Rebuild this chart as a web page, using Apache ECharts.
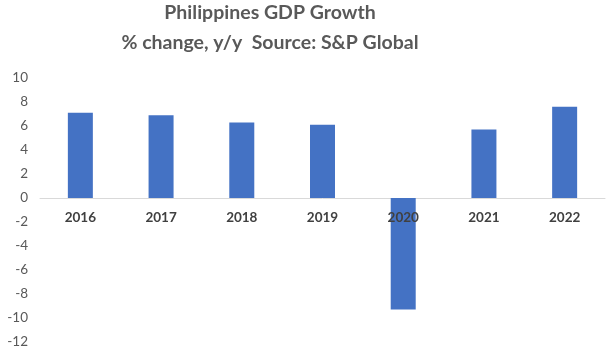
<!DOCTYPE html>
<html>
<head>
<meta charset="utf-8">
<script src="https://cdn.jsdelivr.net/npm/echarts@6/dist/echarts.min.js"></script>
<style>
  html, body { margin: 0; padding: 0; background: #fff; }
  #chart { width: 609px; height: 354px; }
</style>
</head>
<body>
<div id="chart"></div>
<script>
const years = ['2016', '2017', '2018', '2019', '2020', '2021', '2022'];
const gdpGrowth = [7.1, 6.9, 6.3, 6.1, -9.3, 5.7, 7.6];
const titleLines = ['Philippines GDP Growth', '% change, y/y  Source: S&P Global'];

const yMin = -12;
const yMax = 10;
const gridTop = 78;
const gridBottom = 12;
const plotHeight = 354 - gridTop - gridBottom;
// distance from the bottom of the grid up to the zero line
const zeroOffset = plotHeight * (0 - yMin) / (yMax - yMin);

const chart = echarts.init(document.getElementById('chart'));

chart.setOption({
  animation: false,
  title: {
    text: titleLines.join('\n'),
    left: 265,
    top: -7,
    textAlign: 'center',
    textStyle: {
      fontFamily: 'Lato',
      fontSize: 19.5,
      fontWeight: 'bold',
      color: '#595959',
      lineHeight: 30,
    },
  },
  grid: {
    left: 40,
    right: 4,
    top: gridTop,
    bottom: gridBottom,
    containLabel: false,
    outerBoundsMode: 'none',
  },
  xAxis: [
    {
      type: 'category',
      data: years,
      axisTick: { show: false },
      axisLine: { onZero: true, lineStyle: { color: '#d9d9d9', width: 1 } },
      axisLabel: { show: false },
    },
    {
      // label-only axis lifted to the zero line, drawn over the bars
      type: 'category',
      data: years,
      position: 'bottom',
      offset: -zeroOffset,
      z: 10,
      axisTick: { show: false },
      axisLine: { show: false },
      axisLabel: {
        color: '#404040',
        fontFamily: 'Lato',
        fontSize: 13.5,
        fontWeight: 'bold',
        margin: 13,
        interval: 0,
      },
    },
  ],
  yAxis: {
    type: 'value',
    min: yMin,
    max: yMax,
    interval: 2,
    axisLine: { show: false },
    axisTick: { show: false },
    splitLine: { show: false },
    axisLabel: {
      color: '#595959',
      fontFamily: 'Lato',
      fontSize: 13.5,
      margin: 12,
    },
  },
  series: [
    {
      type: 'bar',
      data: gdpGrowth,
      barWidth: 25,
      itemStyle: { color: '#4472c4' },
    },
  ],
});
</script>
</body>
</html>
